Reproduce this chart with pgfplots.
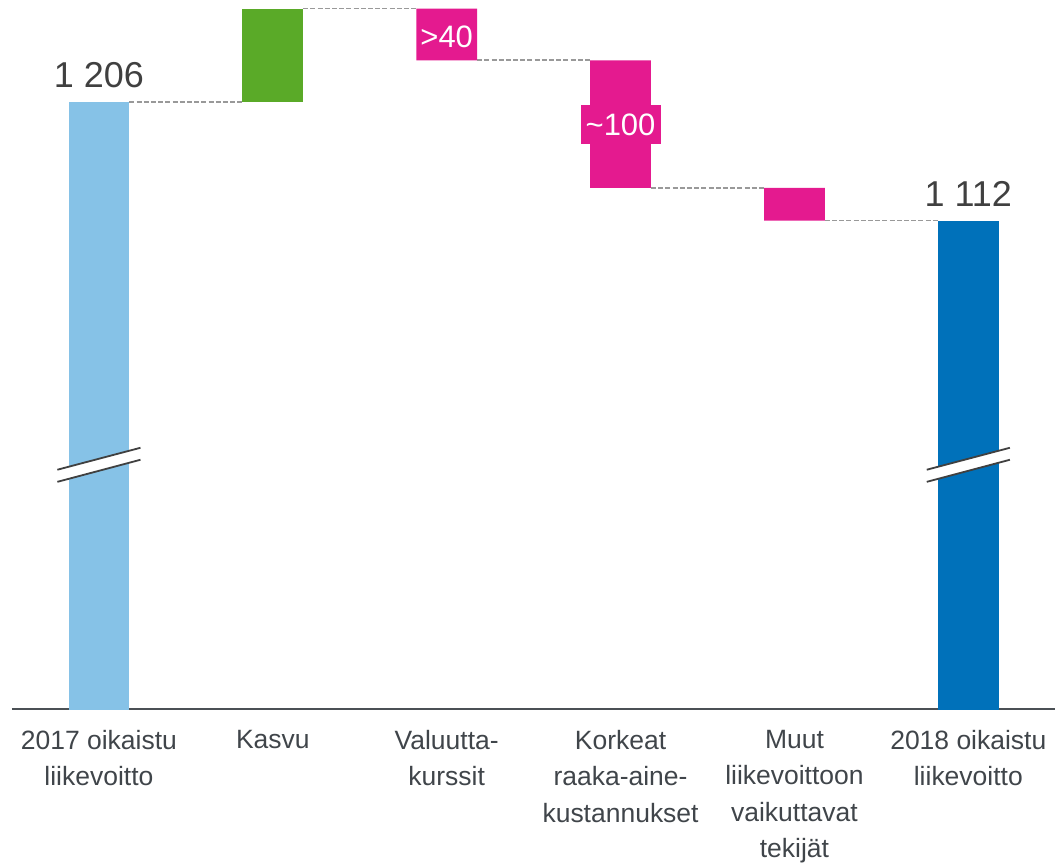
\documentclass[border=0pt]{standalone}
\usepackage{fontspec}
\setmainfont{Liberation Sans}
\usepackage{pgfplots}
\pgfplotsset{compat=1.18}
\definecolor{lblue}{HTML}{86C2E7}
\definecolor{dgreen}{HTML}{5AAA28}
\definecolor{mpink}{HTML}{E41A8F}
\definecolor{dblue}{HTML}{0071BA}
\definecolor{txt}{HTML}{404040}
\definecolor{ticktxt}{HTML}{40454A}
\definecolor{axisgray}{HTML}{4B5055}
\definecolor{dashgray}{HTML}{999999}
\begin{document}
\begin{tikzpicture}
\begin{axis}[
  scale only axis, width=1044pt, height=709.5pt,
  xmin=-0.5, xmax=5.5, ymin=725, ymax=1286.8,
  ybar stacked, bar width=0.35,
  axis y line=none, axis x line*=bottom,
  x axis line style={-, draw=axisgray, line width=1.5pt},
  xtick={0,1,2,3,4,5}, major tick length=0pt,
  xticklabels={{2017 oikaistu\\liikevoitto},{Kasvu},{Valuutta-\\kurssit},{Korkeat\\raaka-aine-\\kustannukset},{Muut\\liikevoittoon\\vaikuttavat\\tekijät},{2018 oikaistu\\liikevoitto}},
  xticklabel style={align=center, font=\fontsize{26.5}{36.5}\selectfont, text=ticktxt, inner sep=0pt, yshift=-21pt},
  clip mode=individual,
]
% invisible bases
\addplot[fill=none, draw=none] coordinates {(0,0) (1,1206) (2,1239) (3,1138) (4,1112) (5,0)};
% start value
\addplot[fill=lblue, draw=none] coordinates {(0,1206) (1,0) (2,0) (3,0) (4,0) (5,0)};
% increase
\addplot[fill=dgreen, draw=none] coordinates {(0,0) (1,74) (2,0) (3,0) (4,0) (5,0)};
% decreases
\addplot[fill=mpink, draw=none] coordinates {(0,0) (1,0) (2,41) (3,101) (4,26) (5,0)};
% end value
\addplot[fill=dblue, draw=none] coordinates {(0,0) (1,0) (2,0) (3,0) (4,0) (5,1112)};
% connectors
\addplot[stack plots=false, sharp plot, no marks, draw=dashgray, line width=1.8pt, dash pattern=on 5pt off 2.2pt] coordinates {(0.175,1206) (0.825,1206)};
\addplot[stack plots=false, sharp plot, no marks, draw=dashgray, line width=1.8pt, dash pattern=on 5pt off 2.2pt] coordinates {(1.175,1280) (1.825,1280)};
\addplot[stack plots=false, sharp plot, no marks, draw=dashgray, line width=1.8pt, dash pattern=on 5pt off 2.2pt] coordinates {(2.175,1239) (2.825,1239)};
\addplot[stack plots=false, sharp plot, no marks, draw=dashgray, line width=1.8pt, dash pattern=on 5pt off 2.2pt] coordinates {(3.175,1138) (3.825,1138)};
\addplot[stack plots=false, sharp plot, no marks, draw=dashgray, line width=1.8pt, dash pattern=on 5pt off 2.2pt] coordinates {(4.175,1112) (4.825,1112)};
% anchor coordinates for annotations
\coordinate (la) at (axis cs:0,1206);
\coordinate (lb) at (axis cs:5,1112);
\coordinate (lc) at (axis cs:2,1248.8);
\coordinate (ld) at (axis cs:3,1188.2);
\coordinate (b1) at (axis cs:-0.239,914.6);
\coordinate (b2) at (axis cs:0.239,932);
\coordinate (b3) at (axis cs:0.239,922.5);
\coordinate (b4) at (axis cs:-0.239,905);
\coordinate (e1) at (axis cs:4.761,914.6);
\coordinate (e2) at (axis cs:5.239,932);
\coordinate (e3) at (axis cs:5.239,922.5);
\coordinate (e4) at (axis cs:4.761,905);
% bounding box padding
\path (rel axis cs:0,0) ++(-12pt,-158.5pt) -- (rel axis cs:1,1);
\end{axis}
% break marks
\fill[white] (b1) -- (b2) -- (b3) -- (b4) -- cycle;
\draw[txt, line width=1.8pt] (b1) -- (b2);
\draw[txt, line width=1.8pt] (b4) -- (b3);
\fill[white] (e1) -- (e2) -- (e3) -- (e4) -- cycle;
\draw[txt, line width=1.8pt] (e1) -- (e2);
\draw[txt, line width=1.8pt] (e4) -- (e3);
% labels
\node[anchor=base, text=txt, font=\fontsize{36}{40}\selectfont, inner sep=0pt] at ([yshift=14pt]la) {1 206};
\node[anchor=base, text=txt, font=\fontsize{36}{40}\selectfont, inner sep=0pt] at ([yshift=14pt]lb) {1 112};
\node[anchor=base, text=white, font=\fontsize{31}{35}\selectfont, inner sep=0pt] at (lc) {>40};
\node[fill=mpink, minimum width=80pt, minimum height=39pt, inner sep=0pt, text=white, font=\fontsize{31}{35}\selectfont] at (ld) {\textasciitilde100};
\end{tikzpicture}
\end{document}
